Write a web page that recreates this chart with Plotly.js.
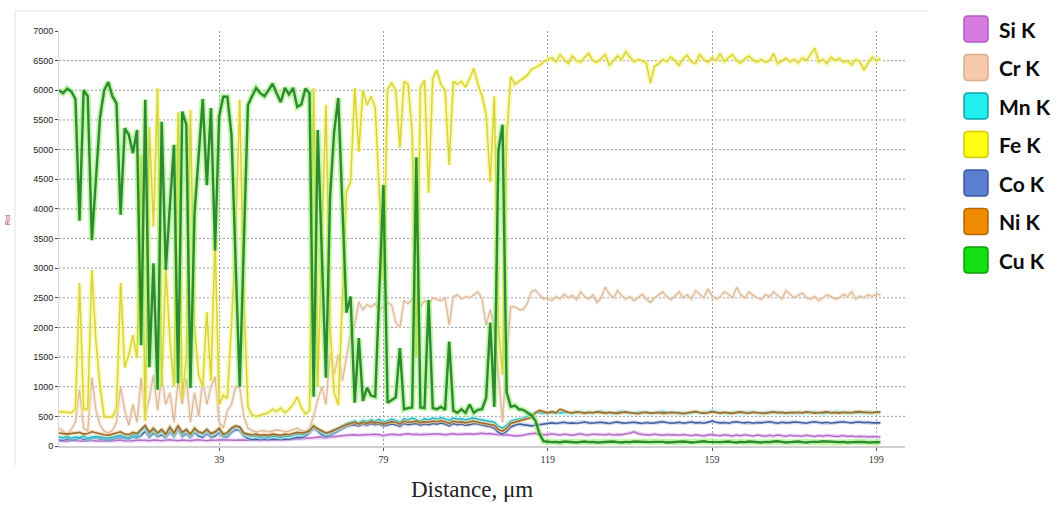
<!DOCTYPE html>
<html>
<head>
<meta charset="utf-8">
<script src="https://cdn.plot.ly/plotly-3.0.1.min.js"></script>
<style>html,body{margin:0;padding:0;background:#fff;}#chart{width:1064px;height:510px;}</style>
</head>
<body>
<div id="chart"></div>
<script>
// ---------- DATA ----------
const seriesNames = ["Si K", "Cr K", "Mn K", "Fe K", "Co K", "Ni K", "Cu K"];
const xTickVals = [39, 79, 119, 159, 199];
const yTickVals = [0, 500, 1000, 1500, 2000, 2500, 3000, 3500, 4000, 4500, 5000, 5500, 6000, 6500, 7000];
const xAxisTitle = "Distance, μm";
const yAxisTitle = "Roi";

const cuK = [
6000,5950,6030,5980,5850,3800,6000,5900,3470,4600,
5550,6000,6140,5900,5780,3900,5360,5250,4940,5330,
1700,5840,1330,3080,950,5470,2970,4050,5080,1060,
5640,5420,980,3930,4900,5850,4400,5700,3300,5560,
5890,5890,5250,3000,1000,3400,5750,5900,6040,5950,
5900,6000,6110,5950,5800,6040,5930,6040,5720,5760,
6030,5950,830,5330,3200,1150,4200,5300,5870,4100,
2250,2520,730,1820,760,980,850,830,2600,4400,
730,780,820,1650,620,640,650,4870,650,640,
2460,640,620,660,610,1760,600,560,620,560,
700,560,610,620,810,2080,660,4990,5420,910,
660,680,620,610,560,520,430,200,80,70,
65,70,60,75,70,65,60,70,75,65,
70,60,65,70,80,75,65,60,70,65,
75,70,65,60,65,70,75,70,60,65,
70,65,75,70,60,65,70,80,70,65,
60,65,70,75,65,60,70,65,75,70,
65,60,70,65,75,80,70,60,65,70,
75,65,60,70,65,70,80,75,65,60,
65,70,60,65,70,75,70,60,65,70,
65];

const feK = [
580,575,560,560,620,2750,610,630,2970,1760,
1000,490,490,490,630,2750,1320,1540,1870,1480,
4910,420,5380,3700,6040,1000,3000,1800,1000,5630,
800,1500,5670,2000,1200,1000,2260,1100,3510,700,
860,800,2040,3500,5840,2500,660,520,500,520,
540,560,620,580,640,560,620,700,830,650,
540,600,6040,1000,3500,5750,2000,900,690,2500,
4290,4450,6040,4960,6000,5750,5900,5700,4350,2800,
6020,6120,6000,5030,6150,6100,5280,1500,6040,6170,
4270,6200,6340,6100,6000,4740,6150,6100,6150,6050,
6200,6370,6100,5900,5600,4450,5900,2000,1200,5200,
6230,6100,6150,6200,6250,6350,6380,6420,6480,6510,
6550,6480,6600,6520,6450,6580,6500,6470,6560,6620,
6500,6470,6540,6600,6420,6500,6580,6520,6650,6560,
6480,6520,6500,6460,6120,6400,6450,6520,6480,6560,
6500,6420,6530,6590,6480,6450,6600,6520,6470,6550,
6500,6620,6480,6550,6600,6500,6460,6530,6580,6510,
6480,6520,6470,6500,6620,6450,6500,6540,6480,6520,
6460,6550,6500,6600,6710,6480,6520,6450,6560,6500,
6540,6470,6500,6430,6520,6480,6340,6460,6560,6500,
6540];

const crK = [
300,250,200,280,400,950,300,250,1160,600,
350,250,220,260,400,1000,600,350,700,400,
1150,500,800,1200,600,1170,700,900,400,1100,
700,1150,400,900,500,1100,700,1000,1170,400,
300,600,700,1000,980,500,300,260,240,250,
260,240,250,270,260,240,250,280,300,260,
250,300,500,780,1000,700,1570,1200,1540,1100,
1500,1900,2040,2430,2300,2380,2350,2400,2300,2350,
2420,2380,2080,2000,2450,2400,2480,2420,2350,2450,
2400,2500,2480,2450,2500,2040,2520,2550,2480,2520,
2500,2550,2600,2480,2040,2300,2000,1200,400,1500,
2350,2350,2300,2300,2400,2600,2630,2550,2480,2500,
2450,2520,2480,2560,2500,2540,2470,2600,2520,2480,
2550,2420,2500,2680,2560,2500,2620,2540,2480,2520,
2450,2500,2560,2480,2420,2500,2550,2600,2520,2470,
2530,2600,2500,2550,2480,2620,2560,2500,2650,2540,
2480,2520,2600,2560,2500,2680,2550,2500,2600,2540,
2500,2470,2550,2520,2600,2540,2480,2620,2560,2500,
2540,2580,2500,2480,2520,2450,2500,2550,2520,2480,
2500,2560,2520,2600,2480,2530,2500,2550,2520,2560,
2550];

const siK = [
90,85,80,95,90,85,80,90,95,85,
90,85,80,90,95,100,90,85,90,95,
100,95,90,100,95,90,100,105,95,90,
100,95,90,100,105,95,90,100,95,105,
100,95,90,95,100,95,90,95,100,95,
90,95,100,95,100,105,110,105,115,120,
130,125,140,150,145,140,150,160,165,170,
180,185,190,180,185,195,190,200,195,175,
190,200,195,185,200,205,195,200,190,195,
200,195,205,200,190,200,205,195,200,210,
205,200,210,215,205,210,200,190,185,190,
180,170,175,180,200,210,215,200,190,195,
205,195,185,200,190,180,195,205,190,185,
200,195,185,190,200,185,195,190,205,215,
240,210,195,190,185,200,190,180,195,185,
190,180,195,185,175,190,180,170,185,195,
180,175,190,180,170,185,175,190,180,170,
185,175,165,180,170,185,175,165,180,170,
175,165,180,170,160,175,165,180,170,160,
165,175,160,170,155,165,160,150,160,155,
150];

const mnK = [
150,140,160,130,150,140,170,130,150,160,
150,140,130,150,160,180,150,140,200,160,
260,310,200,280,200,250,180,300,200,330,
200,260,180,280,220,200,260,190,220,280,
180,200,280,330,310,200,180,160,170,150,
160,150,170,160,150,170,160,180,200,190,
210,250,330,280,230,200,220,260,300,330,
380,400,420,390,430,410,440,420,450,400,
420,450,430,400,460,440,470,450,420,460,
440,470,450,480,460,430,470,450,460,440,
460,470,450,440,430,420,400,330,300,350,
420,440,450,470,500,530,560,560,550,560,
565,560,555,570,560,550,565,575,560,555,
560,570,580,565,560,550,570,585,560,565,
555,560,575,565,550,560,570,580,565,560,
555,565,560,550,565,575,560,555,570,590,
575,560,565,550,560,570,555,565,560,575,
560,550,565,570,560,575,555,560,565,570,
560,555,570,565,575,560,550,565,560,570,
575,560,555,565,570,560,575,565,560,570,
565];

const coK = [
110,100,120,100,110,130,120,100,130,140,
120,110,100,120,130,150,130,110,160,130,
180,250,150,220,160,190,140,240,160,280,
160,210,140,230,170,150,210,150,170,230,
150,160,230,280,260,170,130,110,120,110,
120,110,120,115,110,120,115,130,150,140,
170,220,300,250,190,160,180,220,260,300,
330,350,360,340,370,350,380,360,370,340,
350,370,360,330,380,360,370,380,350,370,
360,380,370,390,370,340,380,360,370,350,
360,380,370,350,340,330,300,230,200,250,
320,350,370,360,350,340,350,360,370,380,
390,380,395,400,385,390,380,395,405,390,
385,395,400,390,380,395,405,390,385,395,
400,390,380,395,385,390,400,410,395,385,
390,400,385,395,405,390,395,385,400,420,
400,390,395,385,400,410,395,390,400,385,
395,390,400,410,395,385,400,390,395,405,
400,395,385,400,410,395,390,400,385,395,
400,410,395,390,400,405,395,400,390,395,
390];

const niK = [
220,210,200,210,220,230,200,210,240,220,
200,190,180,200,220,240,200,190,230,210,
280,350,230,300,220,280,200,320,220,340,
230,280,200,300,240,220,280,210,240,300,
200,230,300,340,320,220,200,190,200,180,
190,180,200,190,180,200,190,210,230,220,
230,260,340,290,250,220,240,270,310,340,
360,380,400,370,400,380,410,390,400,370,
390,410,400,370,420,400,410,420,390,410,
400,420,410,430,410,380,420,400,410,390,
410,420,400,390,380,370,350,280,250,300,
380,400,420,430,450,480,560,600,580,560,
580,560,620,590,570,560,575,565,555,570,
560,575,565,555,570,560,550,565,575,560,
555,545,560,570,555,560,565,550,560,570,
565,550,545,560,570,580,565,555,560,575,
565,555,570,560,550,565,575,560,555,570,
565,560,550,565,575,560,570,555,565,560,
570,560,575,565,555,560,570,575,560,565,
555,570,565,560,575,580,565,570,560,575,
570];

// ---------- STYLE ----------
const seriesValues = {"Si K": siK, "Cr K": crK, "Mn K": mnK, "Fe K": feK, "Co K": coK, "Ni K": niK, "Cu K": cuK};
const style = {
  "Si K": {core: "#b46ec4", halo: "#e6b8f2", w: 1.5, hw: 4},
  "Cr K": {core: "#d9b99c", halo: "#f8e0cc", w: 1.3, hw: 4},
  "Mn K": {core: "#1fb4c4", halo: "#a6f2f2", w: 1.5, hw: 5},
  "Fe K": {core: "#d8d23c", halo: "#f6f67a", w: 1.5, hw: 5},
  "Co K": {core: "#46609e", halo: "#aabde6", w: 1.6, hw: 4},
  "Ni K": {core: "#9a6a2e", halo: "#f2c88a", w: 1.6, hw: 4},
  "Cu K": {core: "#2e8a2e", halo: "#8cf064", w: 2.4, hw: 6}
};
const swatch = {
  "Si K": ["#d67ce0", "#b05cc0"], "Cr K": ["#f7caa9", "#dcae8e"], "Mn K": ["#22eeee", "#10a4ac"],
  "Fe K": ["#ffff14", "#d2cc00"], "Co K": ["#5c80d0", "#3a5a9e"], "Ni K": ["#f08a00", "#b86400"],
  "Cu K": ["#14e014", "#0a9c0a"]
};
const drawOrder = ["Cr K", "Fe K", "Si K", "Co K", "Mn K", "Ni K", "Cu K"];

const distance = cuK.map((_, i) => i);

const traces = [];
drawOrder.forEach(name => {
  const s = style[name];
  traces.push({x: distance, y: seriesValues[name], type: "scatter", mode: "lines", name: name,
    line: {color: s.halo, width: s.hw}, opacity: 0.55, hoverinfo: "skip", showlegend: false});
  traces.push({x: distance, y: seriesValues[name], type: "scatter", mode: "lines", name: name,
    line: {color: s.core, width: s.w}, showlegend: false});
});

// ---------- LAYOUT ----------
const L = 59, R = 905, T = 31, B = 446;
const px = x => (x - L) / (R - L);
const py = y => (B - y) / (B - T);
const gridDash = "2px,2px";
const gridColor = "#9a9a9a";

const shapes = [];
// horizontal dotted grid
yTickVals.filter(v => v > 0 && v < 7000).forEach(v => {
  shapes.push({type: "line", xref: "paper", yref: "y", x0: 0, x1: 1, y0: v, y1: v,
    line: {color: gridColor, width: 1, dash: gridDash}, layer: "below"});
});
// faint frame of the image
shapes.push({type: "line", xref: "paper", yref: "paper", x0: px(15), x1: px(928), y0: py(11), y1: py(11),
  line: {color: "#e4e4e4", width: 1}});
shapes.push({type: "line", xref: "paper", yref: "paper", x0: px(15), x1: px(15), y0: py(11), y1: py(466),
  line: {color: "#e4e4e4", width: 1}});

function roundRect(x0, y0, x1, y1, r) {
  const X = v => px(v).toFixed(5), Y = v => py(v).toFixed(5);
  return `M ${X(x0 + r)},${Y(y0)} L ${X(x1 - r)},${Y(y0)} Q ${X(x1)},${Y(y0)} ${X(x1)},${Y(y0 + r)} ` +
         `L ${X(x1)},${Y(y1 - r)} Q ${X(x1)},${Y(y1)} ${X(x1 - r)},${Y(y1)} L ${X(x0 + r)},${Y(y1)} ` +
         `Q ${X(x0)},${Y(y1)} ${X(x0)},${Y(y1 - r)} L ${X(x0)},${Y(y0 + r)} Q ${X(x0)},${Y(y0)} ${X(x0 + r)},${Y(y0)} Z`;
}

const annotations = [];
const rowStart = 29, rowStep = 38.5;
seriesNames.forEach((name, k) => {
  const cy = rowStart + k * rowStep;
  shapes.push({type: "path", xref: "paper", yref: "paper", path: roundRect(964, cy - 13, 988, cy + 13, 4),
    fillcolor: swatch[name][0], line: {color: swatch[name][1], width: 1.5}});
  annotations.push({xref: "paper", yref: "paper", x: px(997), y: py(cy), xanchor: "left", yanchor: "middle",
    text: "<b>" + name + "</b>", showarrow: false,
    font: {family: "Lato, 'Open Sans', sans-serif", size: 21, color: "#0a0a0a"}});
});
annotations.push({xref: "paper", yref: "paper", x: px(472), y: py(489), xanchor: "center", yanchor: "middle",
  text: xAxisTitle, showarrow: false, font: {family: "'Liberation Serif', 'DejaVu Serif', serif", size: 23, color: "#222"}});
annotations.push({xref: "paper", yref: "paper", x: px(8), y: py(220), xanchor: "center", yanchor: "middle",
  text: yAxisTitle, textangle: -90, showarrow: false, font: {family: "'Liberation Sans', sans-serif", size: 7, color: "#b03048"}});

const layout = {
  width: 1064, height: 510,
  margin: {l: L, r: 1064 - R, t: T, b: 510 - B},
  paper_bgcolor: "#ffffff", plot_bgcolor: "#ffffff",
  showlegend: false,
  xaxis: {
    range: [0, (R - L) / 4.107], tickvals: xTickVals, ticktext: xTickVals.map(String),
    showgrid: true, gridcolor: gridColor, griddash: gridDash, gridwidth: 1,
    zeroline: false, showline: true, linecolor: "#d0d0d0", linewidth: 2,
    ticks: "outside", ticklen: 3, tickcolor: "#555", tickwidth: 1,
    tickfont: {family: "'Liberation Serif', serif", size: 10, color: "#333"}
  },
  yaxis: {
    range: [0, 7000], tickvals: yTickVals, showgrid: false, zeroline: false,
    showline: true, linecolor: "#d8d8d8", linewidth: 1,
    ticks: "outside", ticklen: 3, tickcolor: "#444", tickwidth: 1,
    tickfont: {family: "'Liberation Sans', sans-serif", size: 9, color: "#222"}
  },
  shapes: shapes,
  annotations: annotations
};

Plotly.newPlot("chart", traces, layout, {displayModeBar: false, staticPlot: true});
</script>
</body>
</html>
